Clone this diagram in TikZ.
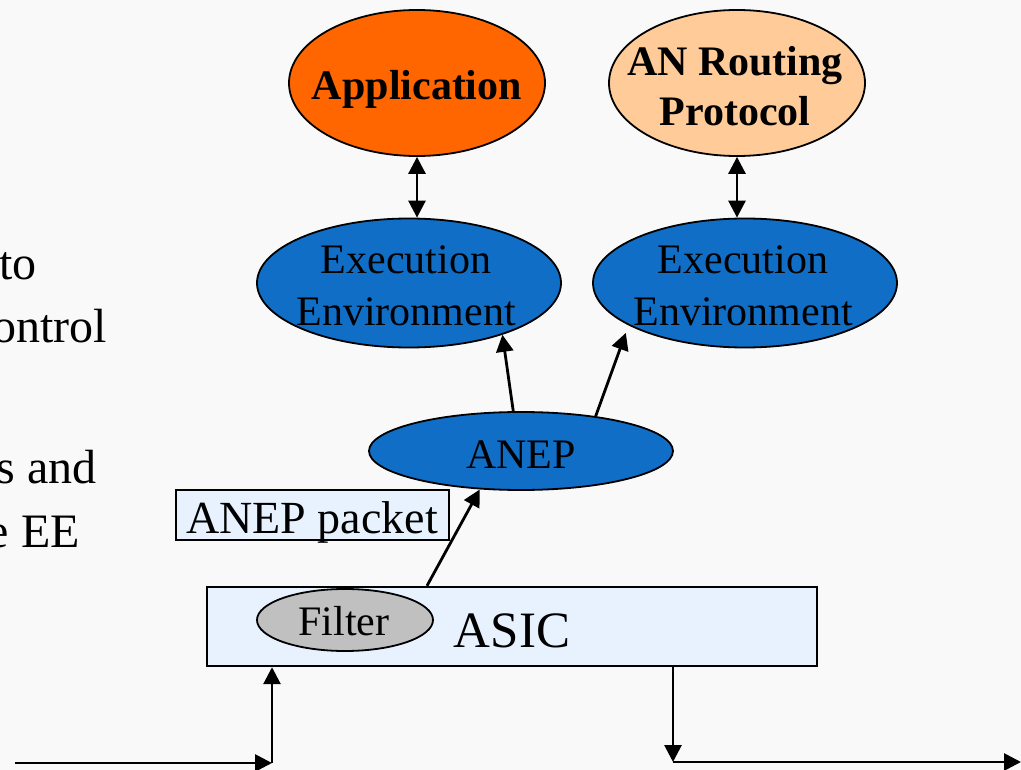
\documentclass[tikz,border=0pt]{standalone}
\usepackage{fontspec}
\setmainfont{Liberation Serif}
\usetikzlibrary{shapes.geometric,arrows.meta}
\definecolor{bg}{RGB}{249,249,249}
\definecolor{apporange}{RGB}{255,102,0}
\definecolor{peach}{RGB}{255,204,153}
\definecolor{eeblue}{RGB}{16,110,198}
\definecolor{boxblue}{RGB}{232,242,254}
\definecolor{filtergray}{RGB}{192,192,192}
\begin{document}
\begin{tikzpicture}[x=1pt,y=-1pt,
  oval/.style={ellipse, draw=black, line width=1.8pt, inner sep=0pt},
  box/.style={rectangle, draw=black, line width=2.4pt, fill=boxblue, inner sep=0pt},
  lbl/.style={inner sep=0pt, anchor=base, font=\fontsize{42}{52}\selectfont},
  bold/.style={inner sep=0pt, font=\fontsize{42}{50}\selectfont\bfseries},
  tip/.tip={Triangle[length=17pt,width=17pt]},
  arr/.style={line width=2.8pt, -tip},
  darr/.style={line width=2.8pt, tip-tip},
  side/.style={inner sep=0pt, anchor=base east, font=\fontsize{48}{58}\selectfont}]
\useasboundingbox (0,0) rectangle (1021,770);
\clip (0,0) rectangle (1021,770);
\fill[bg] (0,0) rectangle (1021,770);

% cut-off slide text on the left
\node[side] (s1) at (37,280) {to};
\node[side] (s2) at (107,343) {ontrol};
\node[side] (s3) at (97,483) {s and};
\node[side] (s4) at (80,547) {e EE};

% upper ovals
\node[oval, fill=apporange, minimum width=256pt, minimum height=146pt] (app) at (417,83) {};
\node[bold, anchor=base] (appt) at (417,100) {Application};
\node[oval, fill=peach, minimum width=256pt, minimum height=146pt] (arp) at (737,83) {};
\node[bold, align=center] (arpt) at (735,86) {AN Routing\\Protocol};

% execution environments
\node[oval, fill=eeblue, minimum width=304pt, minimum height=129pt] (ee1) at (409,283) {};
\node[lbl, anchor=center, align=center] (ee1t) at (406,286) {Execution\\Environment};
\node[oval, fill=eeblue, minimum width=304pt, minimum height=129pt] (ee2) at (745,283) {};
\node[lbl, anchor=center, align=center] (ee2t) at (743,286) {Execution\\Environment};

% ANEP
\node[oval, fill=eeblue, minimum width=304pt, minimum height=78pt] (anep) at (521,451) {};
\node[lbl] (anept) at (521,468) {ANEP};

% ANEP packet label
\node[box, minimum width=273pt, minimum height=50pt] (pkt) at (312.5,515) {};
\node[inner sep=0pt, anchor=base, font=\fontsize{46}{56}\selectfont] (pktt) at (312,533) {ANEP packet};

% ASIC with filter
\node[box, minimum width=610pt, minimum height=79pt] (asic) at (512,626.5) {};
\node[inner sep=0pt, anchor=base, font=\fontsize{51}{60}\selectfont] (asict) at (512,647) {ASIC};
\node[oval, fill=filtergray, minimum width=176pt, minimum height=62pt] (filter) at (345,620) {};
\node[lbl] (filtert) at (344,635) {Filter};

% connectors
\draw[darr] (app.south) -- (app.south |- ee1.north);
\draw[darr] (arp.south) -- (arp.south |- ee2.north);
\draw[arr] (anep.101) -- (ee1.331);
\draw[arr, shorten >=8pt] (anep.25) -- (ee2.200);
\draw[arr] ([xshift=-85pt]asic.north) -- (anep.223);

\coordinate (inA) at (15,763);
\coordinate (inB) at (272,763);
\draw[arr] (inA) -- (inB);
\draw[arr] (inB) -- (inB |- asic.south);

\coordinate (outA) at (673,762);
\coordinate (outB) at (1021,762);
\draw[arr] (asic.south -| outA) -- (outA);
\draw[arr] (outA) -- (outB);
\end{tikzpicture}
\end{document}
